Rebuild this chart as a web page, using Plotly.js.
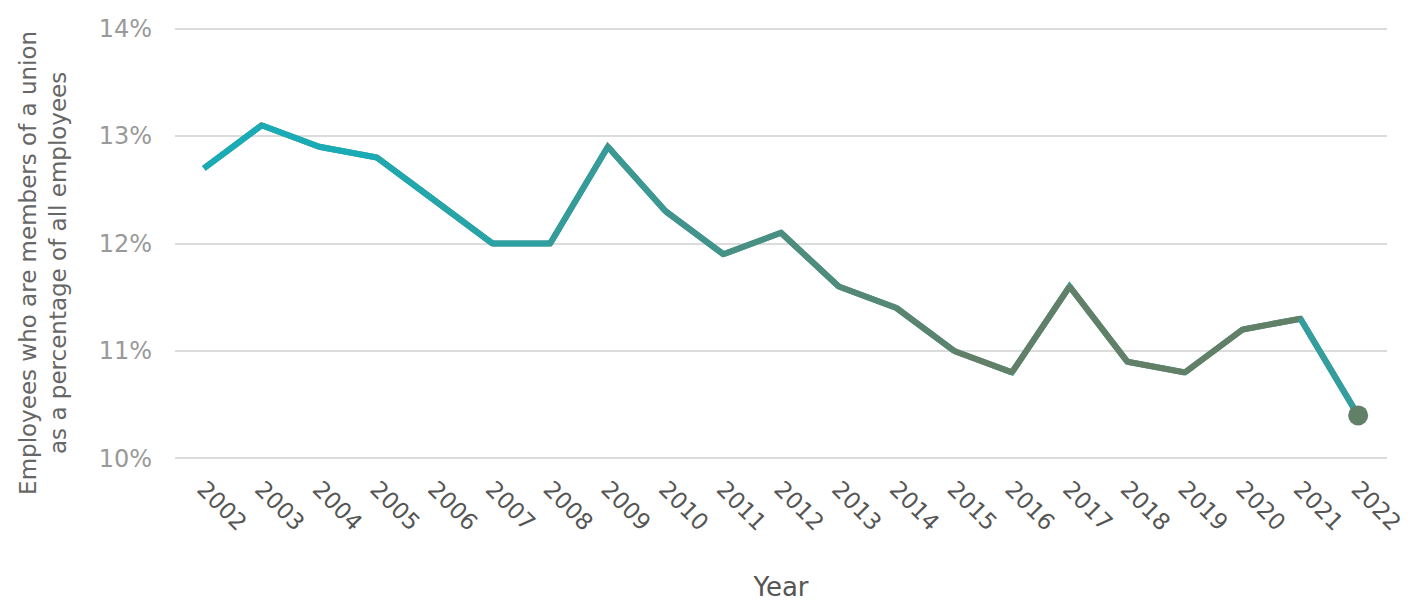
<!DOCTYPE html>
<html>
<head>
<meta charset="utf-8">
<script src="https://cdn.plot.ly/plotly-3.0.1.min.js"></script>
<style>html,body{margin:0;padding:0;background:#fff;}#chart{width:1411px;height:602px;}</style>
</head>
<body>
<div id="chart"></div>
<script>
const years = ['2002','2003','2004','2005','2006','2007','2008','2009','2010','2011','2012','2013','2014','2015','2016','2017','2018','2019','2020','2021','2022'];
const unionShare = [12.7,13.1,12.9,12.8,12.4,12.0,12.0,12.9,12.3,11.9,12.1,11.6,11.4,11.0,10.8,11.6,10.9,10.8,11.2,11.3,10.4];
const yTicks = [10,11,12,13,14];
const yTickText = ['10%','11%','12%','13%','14%'];
const yTitle = 'Employees who are members of a union<br>as a percentage of all employees';

const c0 = [26,172,182], c1 = [98,128,104];
function mix(t){
  t = Math.max(0, Math.min(1, t));
  return 'rgb(' + c0.map((v,i)=>Math.round(v + (c1[i]-v)*t)).join(',') + ')';
}
const n = years.length;
const traces = [{
  x: years, y: unionShare, type: 'scatter', mode: 'lines',
  line: {color: mix(0.6), width: 6}, hoverinfo: 'skip', showlegend: false
}];
for (let i = 0; i < n - 1; i++) {
  let col;
  if (i === n - 2) col = 'rgb(52,158,158)';
  else col = mix((i - 2) / 11);
  traces.push({
    x: years.slice(i, i + 2), y: unionShare.slice(i, i + 2),
    type: 'scatter', mode: 'lines',
    line: {color: col, width: 6},
    hoverinfo: 'skip', showlegend: false
  });
}
traces.push({
  x: [years[n-1]], y: [unionShare[n-1]], type: 'scatter', mode: 'markers',
  marker: {color: 'rgb(98,128,104)', size: 20}, showlegend: false
});

const FONT = 'DejaVu Sans, Noto Sans, sans-serif';
const layout = {
  width: 1411, height: 602,
  margin: {l: 175, r: 24, t: 27, b: 142},
  paper_bgcolor: '#fff', plot_bgcolor: '#fff',
  font: {family: FONT},
  xaxis: {
    type: 'category', categoryorder: 'array', categoryarray: years,
    range: [-0.5, 20.5], showgrid: false, zeroline: false, showline: false,
    ticks: '', tickangle: 45, ticklabelstandoff: 10,
    tickfont: {size: 23, color: '#555', family: FONT},
    title: {text: 'Year', font: {size: 26, color: '#555', family: FONT}, standoff: 45}
  },
  yaxis: {
    range: [9.985, 14.015], tickvals: yTicks, ticktext: yTickText,
    showgrid: true, gridcolor: '#dcdcdc', gridwidth: 2, zeroline: false, showline: false,
    ticks: '', ticklabelstandoff: 22,
    tickfont: {size: 24, color: '#999', family: FONT}
  },
  annotations: [{
    text: yTitle, xref: 'paper', yref: 'paper', x: -0.109, y: 0.455,
    xanchor: 'center', yanchor: 'middle', textangle: -90, showarrow: false,
    font: {size: 23, color: '#666', family: FONT}, align: 'center'
  }]
};
Plotly.newPlot('chart', traces, layout, {displayModeBar: false, staticPlot: true});
</script>
</body>
</html>
